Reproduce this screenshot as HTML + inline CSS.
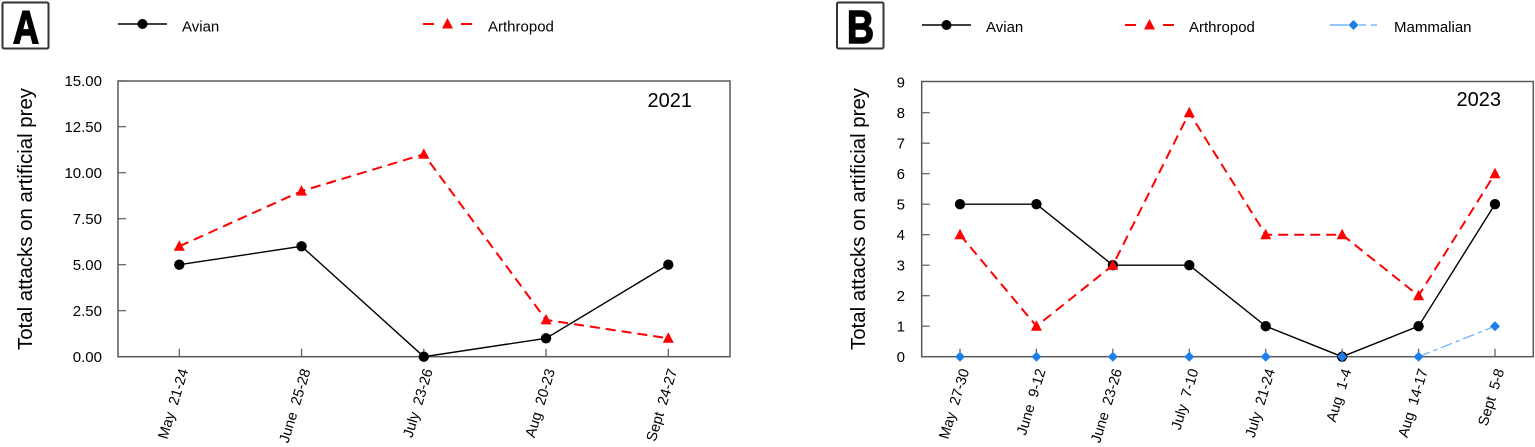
<!DOCTYPE html>
<html><head><meta charset="utf-8"><style>
html,body{margin:0;padding:0;background:#fff;}
svg{display:block;}
text{font-family:"Liberation Sans",Arial,sans-serif;fill:#000;}
</style></head><body>
<svg width="1535" height="447" viewBox="0 0 1535 447" xmlns="http://www.w3.org/2000/svg">
<!-- ================= PANEL A ================= -->
<rect x="2.5" y="2.5" width="46" height="46" fill="#fff" stroke="#333" stroke-width="2" rx="1.5"/>
<text x="26" y="43" font-size="46" font-weight="bold" text-anchor="middle" textLength="26" lengthAdjust="spacingAndGlyphs" stroke="#000" stroke-width="1.6">A</text>

<!-- legend A -->
<line x1="118" y1="24" x2="167" y2="24" stroke="#000" stroke-width="1.4"/>
<circle cx="142.5" cy="24" r="5" fill="#000"/>
<text x="182" y="31.5" font-size="15">Avian</text>
<line x1="423" y1="24" x2="434" y2="24" stroke="#f00" stroke-width="2"/>
<line x1="461" y1="24" x2="472" y2="24" stroke="#f00" stroke-width="2"/>
<polygon points="447.5,18 442,28.5 453,28.5" fill="#f00"/>
<text x="488" y="31.5" font-size="15">Arthropod</text>

<!-- y label A -->
<text transform="translate(32,219) rotate(-90)" font-size="20" text-anchor="middle" textLength="262" lengthAdjust="spacingAndGlyphs">Total attacks on artificial prey</text>

<!-- frame A -->
<rect x="118" y="81" width="612" height="275.7" fill="none" stroke="#5a5a5a" stroke-width="1.5"/>
<g stroke="#5a5a5a" stroke-width="1.2">
<line x1="118" y1="356.7" x2="126" y2="356.7"/>
<line x1="118" y1="310.7" x2="126" y2="310.7"/>
<line x1="118" y1="264.7" x2="126" y2="264.7"/>
<line x1="118" y1="218.7" x2="126" y2="218.7"/>
<line x1="118" y1="172.7" x2="126" y2="172.7"/>
<line x1="118" y1="126.7" x2="126" y2="126.7"/>
<line x1="118" y1="81" x2="126" y2="81"/>
<line x1="179.3" y1="356.7" x2="179.3" y2="348.7"/>
<line x1="301.55" y1="356.7" x2="301.55" y2="348.7"/>
<line x1="423.8" y1="356.7" x2="423.8" y2="348.7"/>
<line x1="546.05" y1="356.7" x2="546.05" y2="348.7"/>
<line x1="668.3" y1="356.7" x2="668.3" y2="348.7"/>
</g>
<g font-size="15" text-anchor="end">
<text x="102" y="362">0.00</text>
<text x="102" y="316">2.50</text>
<text x="102" y="270">5.00</text>
<text x="102" y="224">7.50</text>
<text x="102" y="178">10.00</text>
<text x="102" y="132">12.50</text>
<text x="102" y="86">15.00</text>
</g>
<g font-size="14.5" text-anchor="end">
<text transform="translate(183.5,369) rotate(-73)" dy="0.35em">May&#160;&#160;21-24</text>
<text transform="translate(305.8,369) rotate(-73)" dy="0.35em">June&#160;&#160;25-28</text>
<text transform="translate(428,369) rotate(-73)" dy="0.35em">July&#160;&#160;23-26</text>
<text transform="translate(550.3,369) rotate(-73)" dy="0.35em">Aug&#160;&#160;20-23</text>
<text transform="translate(672.5,369) rotate(-73)" dy="0.35em">Sept&#160;&#160;24-27</text>
</g>
<text x="692" y="107" font-size="20" text-anchor="end">2021</text>

<!-- series A -->
<polyline points="179.3,264.7 301.55,246.3 423.8,356.7 546.05,338.3 668.3,264.7" fill="none" stroke="#000" stroke-width="1.4"/>
<g fill="#000">
<circle cx="179.3" cy="264.7" r="5.2"/><circle cx="301.55" cy="246.3" r="5.2"/><circle cx="423.8" cy="356.7" r="5.2"/><circle cx="546.05" cy="338.3" r="5.2"/><circle cx="668.3" cy="264.7" r="5.2"/>
</g>
<polyline points="179.3,246.3 301.55,191.1 423.8,154.3 546.05,319.9 668.3,338.3" fill="none" stroke="#f00" stroke-width="2" stroke-dasharray="10 6"/>
<g fill="#f00">
<polygon points="179.3,240.3 173.8,250.8 184.8,250.8"/>
<polygon points="301.55,185.1 296.05,195.6 307.05,195.6"/>
<polygon points="423.8,148.3 418.3,158.8 429.3,158.8"/>
<polygon points="546.05,313.9 540.55,324.4 551.55,324.4"/>
<polygon points="668.3,332.3 662.8,342.8 673.8,342.8"/>
</g>

<!-- ================= PANEL B ================= -->
<rect x="837" y="2.5" width="46.5" height="46" fill="#fff" stroke="#333" stroke-width="2" rx="1.5"/>
<text x="860.5" y="43" font-size="46" font-weight="bold" text-anchor="middle" textLength="27" lengthAdjust="spacingAndGlyphs" stroke="#000" stroke-width="1.6">B</text>

<!-- legend B -->
<line x1="922" y1="25" x2="971" y2="25" stroke="#000" stroke-width="1.4"/>
<circle cx="946.5" cy="25" r="5" fill="#000"/>
<text x="986" y="32" font-size="15">Avian</text>
<line x1="1125" y1="25" x2="1136" y2="25" stroke="#f00" stroke-width="2"/>
<line x1="1163" y1="25" x2="1174" y2="25" stroke="#f00" stroke-width="2"/>
<polygon points="1149.5,19 1144,29.5 1155,29.5" fill="#f00"/>
<text x="1189" y="32" font-size="15">Arthropod</text>
<line x1="1330" y1="25" x2="1348" y2="25" stroke="#6fb3ff" stroke-width="1.4"/>
<line x1="1359" y1="25" x2="1366" y2="25" stroke="#6fb3ff" stroke-width="1.4"/>
<line x1="1371" y1="25" x2="1377" y2="25" stroke="#6fb3ff" stroke-width="1.4"/>
<polygon points="1353.5,20 1358.5,25 1353.5,30 1348.5,25" fill="#1e7fe8"/>
<text x="1394" y="32" font-size="15">Mammalian</text>

<!-- y label B -->
<text transform="translate(865,219) rotate(-90)" font-size="20" text-anchor="middle" textLength="262" lengthAdjust="spacingAndGlyphs">Total attacks on artificial prey</text>

<!-- frame B -->
<rect x="921.7" y="81.5" width="611.6" height="275.2" fill="none" stroke="#5a5a5a" stroke-width="1.5"/>
<g stroke="#5a5a5a" stroke-width="1.2">
<line x1="921.7" y1="326.2" x2="929.7" y2="326.2"/>
<line x1="921.7" y1="295.7" x2="929.7" y2="295.7"/>
<line x1="921.7" y1="265.2" x2="929.7" y2="265.2"/>
<line x1="921.7" y1="234.7" x2="929.7" y2="234.7"/>
<line x1="921.7" y1="204.2" x2="929.7" y2="204.2"/>
<line x1="921.7" y1="173.7" x2="929.7" y2="173.7"/>
<line x1="921.7" y1="143.2" x2="929.7" y2="143.2"/>
<line x1="921.7" y1="112.7" x2="929.7" y2="112.7"/>
<line x1="960" y1="356.7" x2="960" y2="348.7"/>
<line x1="1036.43" y1="356.7" x2="1036.43" y2="348.7"/>
<line x1="1112.86" y1="356.7" x2="1112.86" y2="348.7"/>
<line x1="1189.29" y1="356.7" x2="1189.29" y2="348.7"/>
<line x1="1265.71" y1="356.7" x2="1265.71" y2="348.7"/>
<line x1="1342.14" y1="356.7" x2="1342.14" y2="348.7"/>
<line x1="1418.57" y1="356.7" x2="1418.57" y2="348.7"/>
<line x1="1495" y1="356.7" x2="1495" y2="348.7"/>
</g>
<g font-size="15" text-anchor="end">
<text x="905" y="362">0</text>
<text x="905" y="331.5">1</text>
<text x="905" y="301">2</text>
<text x="905" y="270.5">3</text>
<text x="905" y="240">4</text>
<text x="905" y="209.5">5</text>
<text x="905" y="179">6</text>
<text x="905" y="148.5">7</text>
<text x="905" y="118">8</text>
<text x="905" y="87.5">9</text>
</g>
<g font-size="14.5" text-anchor="end">
<text transform="translate(964.5,369) rotate(-73)" dy="0.35em">May&#160;&#160;27-30</text>
<text transform="translate(1040.9,369) rotate(-73)" dy="0.35em">June&#160;&#160;9-12</text>
<text transform="translate(1117.4,369) rotate(-73)" dy="0.35em">June&#160;&#160;23-26</text>
<text transform="translate(1193.8,369) rotate(-73)" dy="0.35em">July&#160;&#160;7-10</text>
<text transform="translate(1270.2,369) rotate(-73)" dy="0.35em">July&#160;&#160;21-24</text>
<text transform="translate(1346.6,369) rotate(-73)" dy="0.35em">Aug&#160;&#160;1-4</text>
<text transform="translate(1423.1,369) rotate(-73)" dy="0.35em">Aug&#160;&#160;14-17</text>
<text transform="translate(1499.5,369) rotate(-73)" dy="0.35em">Sept&#160;&#160;5-8</text>
</g>
<text x="1501" y="106" font-size="20" text-anchor="end">2023</text>

<!-- series B: Avian -->
<polyline points="960,204.2 1036.43,204.2 1112.86,265.2 1189.29,265.2 1265.71,326.2 1342.14,356.7 1418.57,326.2 1495,204.2" fill="none" stroke="#000" stroke-width="1.4"/>
<g fill="#000">
<circle cx="960" cy="204.2" r="5.2"/><circle cx="1036.43" cy="204.2" r="5.2"/><circle cx="1112.86" cy="265.2" r="5.2"/><circle cx="1189.29" cy="265.2" r="5.2"/><circle cx="1265.71" cy="326.2" r="5.2"/><circle cx="1342.14" cy="356.7" r="5.2"/><circle cx="1418.57" cy="326.2" r="5.2"/><circle cx="1495" cy="204.2" r="5.2"/>
</g>
<!-- Arthropod -->
<polyline points="960,234.7 1036.43,326.2 1112.86,265.2 1189.29,112.7 1265.71,234.7 1342.14,234.7 1418.57,295.7 1495,173.7" fill="none" stroke="#f00" stroke-width="2" stroke-dasharray="10 6"/>
<g fill="#f00">
<polygon points="960,228.7 954.5,239.2 965.5,239.2"/>
<polygon points="1036.43,320.2 1030.93,330.7 1041.93,330.7"/>
<polygon points="1112.86,259.2 1107.36,269.7 1118.36,269.7"/>
<polygon points="1189.29,106.7 1183.79,117.2 1194.79,117.2"/>
<polygon points="1265.71,228.7 1260.21,239.2 1271.21,239.2"/>
<polygon points="1342.14,228.7 1336.64,239.2 1347.64,239.2"/>
<polygon points="1418.57,289.7 1413.07,300.2 1424.07,300.2"/>
<polygon points="1495,167.7 1489.5,178.2 1500.5,178.2"/>
</g>
<!-- Mammalian -->
<line x1="1418.57" y1="356.7" x2="1495" y2="326.2" stroke="#6fb3ff" stroke-width="1.3" stroke-dasharray="12 4 4 4"/>
<g fill="#1e7fe8">
<polygon points="960,351.7 965,356.7 960,361.7 955,356.7"/>
<polygon points="1036.43,351.7 1041.43,356.7 1036.43,361.7 1031.43,356.7"/>
<polygon points="1112.86,351.7 1117.86,356.7 1112.86,361.7 1107.86,356.7"/>
<polygon points="1189.29,351.7 1194.29,356.7 1189.29,361.7 1184.29,356.7"/>
<polygon points="1265.71,351.7 1270.71,356.7 1265.71,361.7 1260.71,356.7"/>
<polygon points="1342.14,351.7 1347.14,356.7 1342.14,361.7 1337.14,356.7"/>
<polygon points="1418.57,351.7 1423.57,356.7 1418.57,361.7 1413.57,356.7"/>
<polygon points="1495,321.2 1500,326.2 1495,331.2 1490,326.2"/>
</g>
</svg>
</body></html>
